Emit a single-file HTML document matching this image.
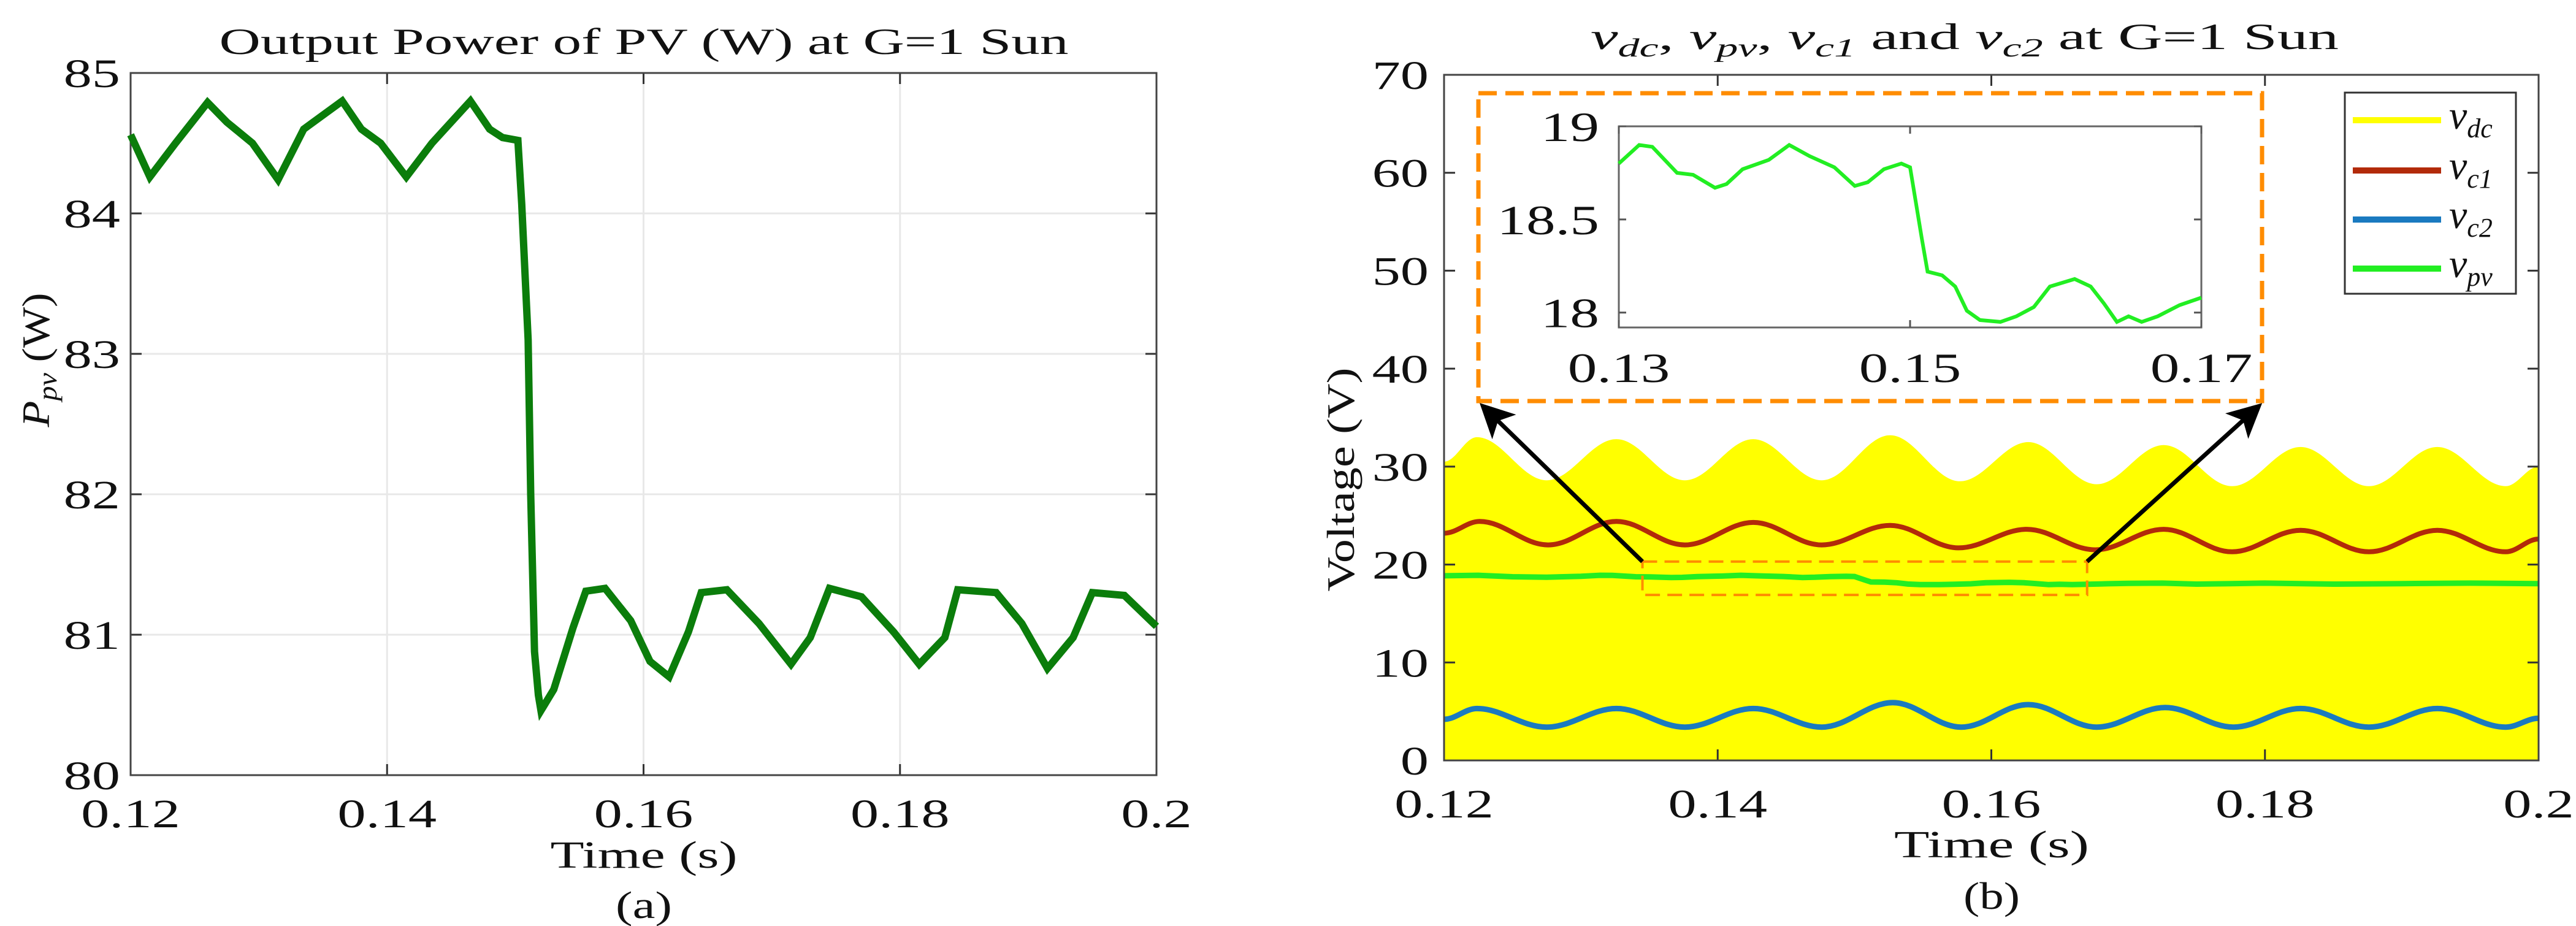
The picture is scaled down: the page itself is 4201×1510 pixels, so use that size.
<!DOCTYPE html>
<html><head><meta charset="utf-8">
<style>
html,body{margin:0;padding:0;background:#fff;}
svg{display:block;font-family:"Liberation Serif",serif;}
</style></head>
<body>
<svg id="fig" xmlns="http://www.w3.org/2000/svg" width="4201" height="1510" viewBox="0 0 4201 1510">
<g id="chartA"></g>
<g id="chartB"></g>
</svg>
<script>
// ---------- Chart (a) data ----------
const pvTime = [0.12,0.1215,0.1235,0.126,0.1275,0.1295,0.1315,0.1335,0.1365,0.138,0.1395,0.1415,0.1435,0.1465,0.148,0.149,0.1502,0.1505,0.151,0.1512,0.1515,0.1518,0.152,0.153,0.1545,0.1555,0.157,0.159,0.1605,0.162,0.1635,0.1645,0.1665,0.169,0.1715,0.173,0.1745,0.177,0.1795,0.1815,0.1835,0.1845,0.1875,0.1895,0.1915,0.1935,0.195,0.1975,0.2];
const pvPower = [84.56,84.26,84.5,84.79,84.65,84.5,84.24,84.6,84.8,84.6,84.5,84.26,84.5,84.8,84.6,84.54,84.52,84.07,83.1,82.0,80.88,80.57,80.46,80.61,81.05,81.31,81.33,81.1,80.81,80.7,81.02,81.3,81.32,81.08,80.79,80.98,81.33,81.27,81.02,80.79,80.98,81.32,81.3,81.08,80.76,80.98,81.3,81.28,81.06];
const aXTicks = [0.12,0.14,0.16,0.18,0.2];
const aXTickLabels = ["0.12","0.14","0.16","0.18","0.2"];
const aYTicks = [80,81,82,83,84,85];
const aYTickLabels = ["80","81","82","83","84","85"];

// ---------- Chart (b) data ----------
const vdcTime = [0.12,0.1224,0.1275,0.1326,0.1376,0.1426,0.1476,0.1526,0.1577,0.1627,0.1677,0.1726,0.1776,0.1826,0.1876,0.1926,0.1976,0.2];
const vdcVal  = [30.5,33.0,28.6,32.8,28.6,32.8,28.6,33.2,28.5,32.5,28.2,32.2,28.0,32.0,28.0,32.0,28.0,30.0];
const vc1Time = [0.12,0.1226,0.1276,0.1326,0.1376,0.1426,0.1476,0.1526,0.1576,0.1626,0.1676,0.1726,0.1776,0.1826,0.1876,0.1926,0.1976,0.2];
const vc1Val  = [23.2,24.4,22.0,24.4,22.0,24.3,22.0,24.0,21.7,23.6,21.5,23.6,21.3,23.5,21.3,23.5,21.3,22.6];
const vc2Time = [0.12,0.1224,0.1275,0.1326,0.1376,0.1426,0.1476,0.1528,0.1578,0.1627,0.1677,0.1727,0.1777,0.1826,0.1876,0.1926,0.1976,0.2];
const vc2Val  = [4.2,5.3,3.4,5.3,3.4,5.3,3.4,5.9,3.4,5.7,3.4,5.4,3.4,5.3,3.4,5.3,3.4,4.3];
const vpvTime = [0.12,0.1225,0.125,0.1275,0.13,0.1314,0.1323,0.134,0.1351,0.1366,0.1374,0.1385,0.1403,0.1417,0.1431,0.1448,0.1462,0.1471,0.1482,0.1494,0.15,0.1504,0.1508,0.1512,0.1522,0.1531,0.1539,0.1548,0.1562,0.1573,0.1585,0.1596,0.1613,0.1624,0.1633,0.1642,0.165,0.1659,0.167,0.1685,0.17,0.1725,0.175,0.1775,0.18,0.185,0.19,0.195,0.2];
const vpvVal  = [18.85,18.9,18.75,18.7,18.8,18.9,18.89,18.75,18.74,18.67,18.69,18.77,18.82,18.9,18.84,18.78,18.68,18.7,18.77,18.8,18.78,18.59,18.4,18.22,18.2,18.14,18.01,17.96,17.95,17.98,18.03,18.14,18.18,18.14,18.05,17.95,17.98,17.95,17.98,18.04,18.08,18.1,18.0,18.05,18.1,18.0,18.05,18.1,18.05];
const bXTicks = [0.12,0.14,0.16,0.18,0.2];
const bXTickLabels = ["0.12","0.14","0.16","0.18","0.2"];
const bYTicks = [0,10,20,30,40,50,60,70];
const bYTickLabels = ["0","10","20","30","40","50","60","70"];
const insetXTicks = [0.13,0.15,0.17];
const insetXTickLabels = ["0.13","0.15","0.17"];
const insetYTicks = [18,18.5,19];
const insetYTickLabels = ["18","18.5","19"];
const legendLabels = [["v","dc"],["v","c1"],["v","c2"],["v","pv"]];

const NS = "http://www.w3.org/2000/svg";
function mk(parent, tag, attrs){ const e=document.createElementNS(NS,tag); for(const k in attrs) e.setAttribute(k,attrs[k]); parent.appendChild(e); return e; }
const SX = 1.4; // horizontal stretch of the reference typography
function txt(parent, x, y, s, size, anchor){
  const g = mk(parent,'g',{transform:`translate(${x},${y}) scale(${SX},1)`});
  const t = mk(g,'text',{x:0,y:0,'font-size':size,'text-anchor':anchor||'middle',fill:'#111'});
  t.textContent = s; return t;
}

// ---------- Chart (a) ----------
const A = document.getElementById('chartA');
const aL=213,aR=1886,aT=119,aB=1264;
const ax = t => aL + (t-0.12)/(0.2-0.12)*(aR-aL);
const ay = v => aB - (v-80)/(85-80)*(aB-aT);
aXTicks.forEach((t,i)=>{
  const g=mk(A,'line',{x1:ax(t),x2:ax(t),y1:aT,y2:aB,stroke:'#e8e8e8','stroke-width':3});
   
  mk(A,'line',{x1:ax(t),x2:ax(t),y1:aB,y2:aB-18,stroke:'#333','stroke-width':3});
  mk(A,'line',{x1:ax(t),x2:ax(t),y1:aT,y2:aT+18,stroke:'#333','stroke-width':3});
  const l=txt(A,ax(t),1349,aXTickLabels[i],66);
   
});
aYTicks.forEach((v,i)=>{
  const g=mk(A,'line',{x1:aL,x2:aR,y1:ay(v),y2:ay(v),stroke:'#e8e8e8','stroke-width':3});
   
  mk(A,'line',{x1:aL,x2:aL+18,y1:ay(v),y2:ay(v),stroke:'#333','stroke-width':3});
  mk(A,'line',{x1:aR,x2:aR-18,y1:ay(v),y2:ay(v),stroke:'#333','stroke-width':3});
  const l=txt(A,196,ay(v)+23,aYTickLabels[i],66,'end');
   
});
{
  const b=mk(A,'rect',{x:aL,y:aT,width:aR-aL,height:aB-aT,fill:'none',stroke:'#444','stroke-width':3});
   
  let d='';
  pvTime.forEach((t,i)=>{ d += (i?'L':'M')+ax(t).toFixed(1)+','+ay(pvPower[i]).toFixed(1)+' '; });
  const p=mk(A,'path',{d:d,fill:'none',stroke:'#0b7d0b','stroke-width':12,'stroke-linejoin':'miter'});
   
  const ti=mk(A,'text',{x:1050,y:88,'font-size':60,'text-anchor':'middle',textLength:1385,lengthAdjust:'spacingAndGlyphs',fill:'#111'});
  ti.textContent='Output Power of PV (W) at G=1 Sun';
   
  const xl=mk(A,'text',{x:1050,y:1415,'font-size':62,'text-anchor':'middle',textLength:305,lengthAdjust:'spacingAndGlyphs',fill:'#111'});
  xl.textContent='Time (s)';
   
  const cap=mk(A,'text',{x:1050,y:1497,'font-size':62,'text-anchor':'middle',textLength:92,lengthAdjust:'spacingAndGlyphs',fill:'#111'});
  cap.textContent='(a)';
   
  const yl=mk(A,'text',{x:0,y:0,'font-size':64,'text-anchor':'middle',fill:'#111',transform:'translate(80,587) rotate(-90)',textLength:219,lengthAdjust:'spacingAndGlyphs'});
   
  const t1=mk(yl,'tspan',{'font-style':'italic'}); t1.textContent='P';
  const t2=mk(yl,'tspan',{'font-style':'italic','font-size':44,dy:12}); t2.textContent='pv';
  const t3=mk(yl,'tspan',{dy:-12}); t3.textContent=' (W)';
}

// ---------- Chart (b) ----------
const B = document.getElementById('chartB');
const bL=2355,bR=4140,bT=122,bB=1240;
const bx = t => bL + (t-0.12)/(0.2-0.12)*(bR-bL);
const by = v => bB - (v-0)/(70-0)*(bB-bT);
function smooth(ts,vs,fx,fy){
  let d='M'+fx(ts[0]).toFixed(1)+','+fy(vs[0]).toFixed(1);
  for(let i=1;i<ts.length;i++){
    const x0=fx(ts[i-1]),x1=fx(ts[i]),y0=fy(vs[i-1]),y1=fy(vs[i]),m=(x1-x0)*0.36;
    d+=` C${(x0+m).toFixed(1)},${y0.toFixed(1)} ${(x1-m).toFixed(1)},${y1.toFixed(1)} ${x1.toFixed(1)},${y1.toFixed(1)}`;
  }
  return d;
}
{
  const area=mk(B,'path',{d:'M'+bx(vdcTime[0])+','+by(0)+' L'+smooth(vdcTime,vdcVal,bx,by).slice(1)+' L'+bx(vdcTime[vdcTime.length-1])+','+by(0)+' Z',fill:'#ffff00',stroke:'none'});
   
  const c1=mk(B,'path',{d:smooth(vc1Time,vc1Val,bx,by),fill:'none',stroke:'#b22a0a','stroke-width':8});
   
  const c2=mk(B,'path',{d:smooth(vc2Time,vc2Val,bx,by),fill:'none',stroke:'#1a7ac0','stroke-width':9});
   
  let d='';
  vpvTime.forEach((t,i)=>{ d+=(i?'L':'M')+bx(t).toFixed(1)+','+by(vpvVal[i]).toFixed(1)+' '; });
  const pv=mk(B,'path',{d:d,fill:'none',stroke:'#22ee22','stroke-width':9});
   
}
bXTicks.forEach((t,i)=>{
  mk(B,'line',{x1:bx(t),x2:bx(t),y1:bB,y2:bB-18,stroke:'#333','stroke-width':3});
  mk(B,'line',{x1:bx(t),x2:bx(t),y1:bT,y2:bT+18,stroke:'#333','stroke-width':3});
  const l=txt(B,bx(t),1333,bXTickLabels[i],66);
   
});
bYTicks.forEach((v,i)=>{
  mk(B,'line',{x1:bL,x2:bL+18,y1:by(v),y2:by(v),stroke:'#333','stroke-width':3});
  mk(B,'line',{x1:bR,x2:bR-18,y1:by(v),y2:by(v),stroke:'#333','stroke-width':3});
  const l=txt(B,2330,by(v)+23,bYTickLabels[i],66,'end');
   
});
{
  const b=mk(B,'rect',{x:bL,y:bT,width:bR-bL,height:bB-bT,fill:'none',stroke:'#444','stroke-width':3});
   
  // zoom region rectangle
  const zr=mk(B,'rect',{x:bx(0.1345),y:by(20.3),width:bx(0.167)-bx(0.1345),height:by(16.9)-by(20.3),fill:'none',stroke:'#ff8c00','stroke-width':4,'stroke-dasharray':'24 12'});
   
  // arrows
  const defs=mk(B,'defs',{});
  const mkr=mk(defs,'marker',{id:'ah',markerWidth:8,markerHeight:8,refX:7,refY:4,orient:'auto',markerUnits:'strokeWidth'});
  mk(mkr,'path',{d:'M0,0 L8,4 L0,8 L2,4 Z',fill:'#000'});
  const a1=mk(B,'line',{x1:bx(0.1345),y1:by(20.3),x2:2418,y2:662,stroke:'#000','stroke-width':7,'marker-end':'url(#ah)'});
   
  const a2=mk(B,'line',{x1:bx(0.167),y1:by(20.3),x2:3684,y2:662,stroke:'#000','stroke-width':7,'marker-end':'url(#ah)'});
   
  // inset box
  const ib=mk(B,'rect',{x:2411,y:152,width:3689-2411,height:654-152,fill:'#fff',stroke:'#ff8c00','stroke-width':7,'stroke-dasharray':'30 14'});
   
}
// inset
const iL=2640,iR=3590,iT=206,iB=534;
const ix = t => iL + (t-0.13)/(0.17-0.13)*(iR-iL);
const iy = v => iB - (v-17.92)/(19-17.92)*(iB-iT);
{
  const I=mk(B,'g',{});  
  mk(I,'rect',{x:iL,y:iT,width:iR-iL,height:iB-iT,fill:'#fff',stroke:'#666','stroke-width':3});
  insetXTicks.forEach((t,i)=>{
    mk(I,'line',{x1:ix(t),x2:ix(t),y1:iB,y2:iB-12,stroke:'#555','stroke-width':3});
    mk(I,'line',{x1:ix(t),x2:ix(t),y1:iT,y2:iT+12,stroke:'#555','stroke-width':3});
    const l=txt(I,ix(t),623,insetXTickLabels[i],68);
     
  });
  insetYTicks.forEach((v,i)=>{
    mk(I,'line',{x1:iL,x2:iL+12,y1:iy(v),y2:iy(v),stroke:'#555','stroke-width':3});
    mk(I,'line',{x1:iR,x2:iR-12,y1:iy(v),y2:iy(v),stroke:'#555','stroke-width':3});
    const l=txt(I,2608,iy(v)+24,insetYTickLabels[i],68,'end');
     
  });
  let d=''; let first=true;
  vpvTime.forEach((t,i)=>{ if(t<0.13||t>0.17) return; d+=(first?'M':'L')+ix(t).toFixed(1)+','+iy(vpvVal[i]).toFixed(1)+' '; first=false; });
  const p=mk(I,'path',{d:d,fill:'none',stroke:'#22ee22','stroke-width':6});
   
}
// legend
{
  const G=mk(B,'g',{});  
  mk(G,'rect',{x:3824,y:151,width:279,height:328,fill:'#fff',stroke:'#333','stroke-width':3});
  const cols=['#ffff00','#b22a0a','#1a7ac0','#22ee22'];
  const ys=[196,278,358,438];
  legendLabels.forEach((lab,i)=>{
    const e=mk(G,'g',{});
     
    mk(e,'line',{x1:3837,x2:3981,y1:ys[i],y2:ys[i],stroke:cols[i],'stroke-width':10});
    const t=mk(e,'text',{x:3994,y:ys[i]+14,'font-size':66,'font-style':'italic',fill:'#111'});
    const a=mk(t,'tspan',{}); a.textContent=lab[0];
    const b=mk(t,'tspan',{'font-size':44,dy:14}); b.textContent=lab[1];
  });
}
{
  const ti=mk(B,'text',{x:3204,y:80,'font-size':60,'text-anchor':'middle',textLength:1220,lengthAdjust:'spacingAndGlyphs',fill:'#111'});
   
  const parts=[['v','dc',', '],['v','pv',', '],['v','c1',' and '],['v','c2',' at G=1 Sun']];
  parts.forEach(p=>{
    const a=mk(ti,'tspan',{'font-style':'italic'}); a.textContent=p[0];
    const b=mk(ti,'tspan',{'font-style':'italic','font-size':42,dy:12}); b.textContent=p[1];
    const c=mk(ti,'tspan',{dy:-12}); c.textContent=p[2];
  });
  const xl=mk(B,'text',{x:3248,y:1398,'font-size':62,'text-anchor':'middle',textLength:318,lengthAdjust:'spacingAndGlyphs',fill:'#111'});
  xl.textContent='Time (s)';
   
  const cap=mk(B,'text',{x:3248,y:1482,'font-size':62,'text-anchor':'middle',textLength:92,lengthAdjust:'spacingAndGlyphs',fill:'#111'});
  cap.textContent='(b)';
   
  const yl=mk(B,'text',{x:0,y:0,'font-size':64,'text-anchor':'middle',fill:'#111',transform:'translate(2208,782) rotate(-90)',textLength:365,lengthAdjust:'spacingAndGlyphs'});
  yl.textContent='Voltage (V)';
   
}
</script>
</body></html>
